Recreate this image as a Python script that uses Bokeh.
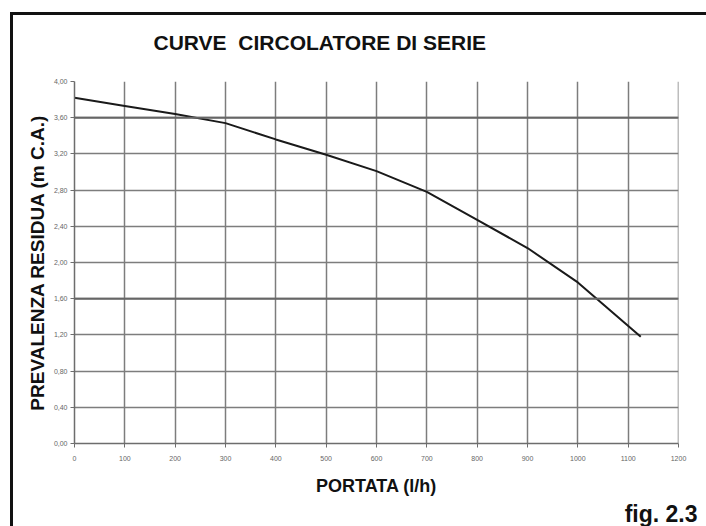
from bokeh.plotting import figure
from bokeh.models import Range1d, FixedTicker, CustomJSTickFormatter, Span, Title, InlineStyleSheet
from bokeh.embed import file_html
from bokeh.resources import INLINE

title_text = "CURVE\u00a0 CIRCOLATORE DI SERIE"
x_label = "PORTATA (l/h)"
y_label = "PREVALENZA RESIDUA (m C.A.)"
fig_label = "fig. 2.3"

x_ticks = [0, 100, 200, 300, 400, 500, 600, 700, 800, 900, 1000, 1100, 1200]
y_ticks = [0.0, 0.4, 0.8, 1.2, 1.6, 2.0, 2.4, 2.8, 3.2, 3.6, 4.0]
emphasis_levels = [1.6, 3.6]

flow = [0, 100, 200, 300, 400, 500, 600, 700, 800, 900, 1000, 1125]
head = [3.82, 3.73, 3.64, 3.54, 3.36, 3.19, 3.01, 2.78, 2.47, 2.16, 1.78, 1.18]

FONT = "Liberation Sans"

p = figure(width=706, height=526, output_backend="svg", toolbar_location=None,
           x_range=Range1d(0, 1200), y_range=Range1d(0, 4),
           min_border_left=74, min_border_right=28, min_border_top=81, min_border_bottom=81,
           background_fill_color="white", border_fill_color="white")
p.outline_line_color = None

# title
p.title.text = title_text
p.title.text_font = FONT
p.title.text_font_style = "bold"
p.title.text_font_size = "21px"
p.title.text_color = "#111111"
p.title.align = "left"
p.title.offset = 79
p.title.standoff = 55

# grid
for g in (p.xgrid, p.ygrid):
    g.grid_line_color = "#7d7d7d"
    g.grid_line_width = 1.5
p.xgrid.ticker = FixedTicker(ticks=x_ticks)
p.ygrid.ticker = FixedTicker(ticks=y_ticks)
for lv in emphasis_levels:
    p.add_layout(Span(location=lv, dimension="width", line_color="#666666", line_width=2))
p.add_layout(Span(location=1200, dimension="height", line_color="#7d7d7d", line_width=1.5))

# axes
p.xaxis.ticker = FixedTicker(ticks=x_ticks)
p.yaxis.ticker = FixedTicker(ticks=y_ticks)
p.yaxis.formatter = CustomJSTickFormatter(code="return tick.toFixed(2).replace('.', ',');")
for ax in (p.xaxis, p.yaxis):
    ax.axis_line_color = "#6d6d6d"
    ax.axis_line_width = 1.5
    ax.major_tick_line_color = "#6d6d6d"
    ax.major_tick_in = 0
    ax.major_tick_out = 4
    ax.minor_tick_line_color = None
    ax.major_label_text_font = FONT
    ax.major_label_text_font_size = "7px"
    ax.major_label_text_color = "#666666"
    ax.axis_label_text_font = FONT
    ax.axis_label_text_font_style = "bold"
    ax.axis_label_text_color = "#111111"
p.xaxis.axis_label = x_label
p.yaxis.axis_label = y_label
p.xaxis.axis_label_text_font_size = "18px"
p.yaxis.axis_label_text_font_size = "19px"
p.yaxis.major_label_standoff = 3
p.xaxis.major_label_standoff = 8
p.yaxis.axis_label_standoff = 3
p.xaxis.axis_label_standoff = 12

# curve
p.line(flow, head, line_color="#1a1a1a", line_width=2)

# figure number below, right aligned
fig_title = Title(text=fig_label, text_font=FONT, text_font_style="bold",
                  text_font_size="23px", text_color="#111111", align="right",
                  offset=-19, standoff=0)
p.add_layout(fig_title, "below")

# outer frame: separate top and left rules, fixed-positioned so they add no overflow
p.stylesheets = [InlineStyleSheet(css="""
:host::before {
  content: ""; position: fixed; left: 10px; top: 12px; width: 760px; height: 3px;
  background: #111111; border: none; pointer-events: none; z-index: 10;
}
:host::after {
  content: ""; position: fixed; left: 10px; top: 12px; width: 3px; height: 600px;
  background: #111111; border: none; pointer-events: none; z-index: 10;
}
""")]

open("out.html", "w").write(file_html(p, INLINE))
